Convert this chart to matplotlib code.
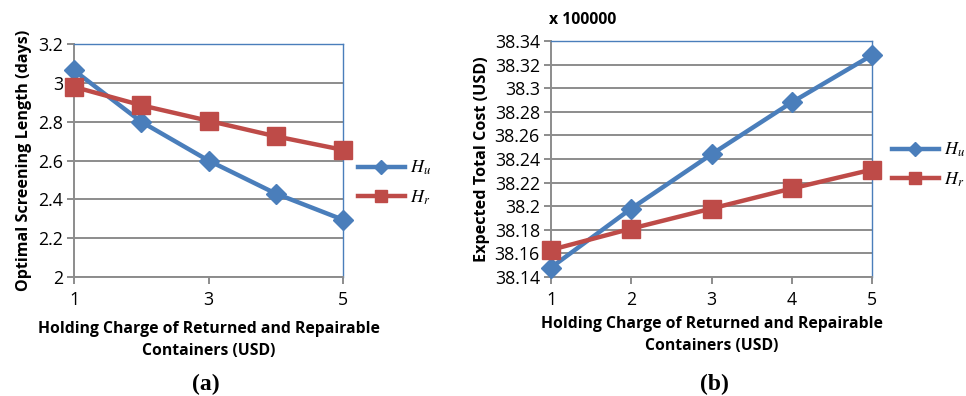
import matplotlib.pyplot as plt
from matplotlib.lines import Line2D

plt.rcParams['font.family'] = ['Open Sans', 'DejaVu Sans']
plt.rcParams['mathtext.fontset'] = 'stix'

# data
charge = [1, 2, 3, 4, 5]
screen_hu = [3.065, 2.80, 2.60, 2.43, 2.295]
screen_hr = [2.98, 2.885, 2.805, 2.725, 2.655]
cost_hu = [38.148, 38.198, 38.244, 38.288, 38.328]
cost_hr = [38.163, 38.181, 38.198, 38.215, 38.231]
ticks_a = [1, 3, 5]
ticks_b = [1, 2, 3, 4, 5]
yticks_a = [2, 2.2, 2.4, 2.6, 2.8, 3, 3.2]
yticks_b = [38.14, 38.16, 38.18, 38.2, 38.22, 38.24, 38.26, 38.28, 38.3, 38.32, 38.34]

blue = '#4A7EBB'
red = '#BE4B48'
grid = '#8C8C8C'
xlabel = 'Holding Charge of Returned and Repairable\nContainers (USD)'

fig = plt.figure(figsize=(9.66, 3.96), dpi=100)
ax1 = fig.add_axes([0.0766, 0.3005, 0.2785, 0.588])
ax2 = fig.add_axes([0.5704, 0.3005, 0.3323, 0.596])


def style(ax, xt, yt):
    ax.set_xlim(1, 5)
    ax.set_ylim(yt[0], yt[-1])
    ax.set_xticks(xt)
    ax.set_yticks(yt)
    ax.set_yticklabels([f'{v:g}' for v in yt])
    ax.yaxis.grid(True, color=grid, linewidth=1.4)
    ax.set_axisbelow(True)
    for s in ['left', 'bottom']:
        ax.spines[s].set_color(grid)
        ax.spines[s].set_linewidth(1.4)
    for s in ['top', 'right']:
        ax.spines[s].set_color(blue)
        ax.spines[s].set_linewidth(1.0)
    ax.tick_params(colors=grid, labelcolor='black', labelsize=12.8,
                   length=5, width=1.4)
    ax.tick_params(axis='x', pad=5)
    ax.tick_params(axis='y', pad=3)


def draw(ax, hu, hr):
    ax.plot(charge, hu, color=blue, lw=3.2, marker='D', ms=10,
            clip_on=False, zorder=3)
    ax.plot(charge, hr, color=red, lw=3.2, marker='s', ms=13,
            clip_on=False, zorder=4)


def legend(ax, anchor):
    handles = [Line2D([], [], color=blue, lw=3.2, marker='D', ms=7),
               Line2D([], [], color=red, lw=3.2, marker='s', ms=9)]
    ax.legend(handles, ['$H_u$', '$H_r$'], loc='center left',
              bbox_to_anchor=anchor, frameon=False, fontsize=13,
              handlelength=2.6, handletextpad=0.3, labelspacing=0.6,
              borderpad=0, borderaxespad=0)


draw(ax1, screen_hu, screen_hr)
style(ax1, ticks_a, yticks_a)
ax1.set_ylabel('Optimal Screening Length (days)', fontsize=11.6,
               fontweight='bold', labelpad=4)
ax1.set_xlabel(xlabel, fontsize=11.3, fontweight='bold', labelpad=9,
               linespacing=1.5)
legend(ax1, (1.055, 0.405))

draw(ax2, cost_hu, cost_hr)
style(ax2, ticks_b, yticks_b)
ax2.set_ylabel('Expected Total Cost (USD)', fontsize=11.6,
               fontweight='bold', labelpad=3)
ax2.set_xlabel(xlabel, fontsize=11.3, fontweight='bold', labelpad=5,
               linespacing=1.5)
legend(ax2, (1.062, 0.475))
ax2.text(-0.005, 1.055, 'x 100000', transform=ax2.transAxes,
         fontsize=11.3, fontweight='bold', ha='left', va='bottom')

fig.text(0.2135, 0.015, '(a)', fontsize=17, fontweight='bold',
         family='Liberation Serif', ha='center')
fig.text(0.740, 0.015, '(b)', fontsize=17, fontweight='bold',
         family='Liberation Serif', ha='center')

fig.savefig('out.png', dpi=100)
